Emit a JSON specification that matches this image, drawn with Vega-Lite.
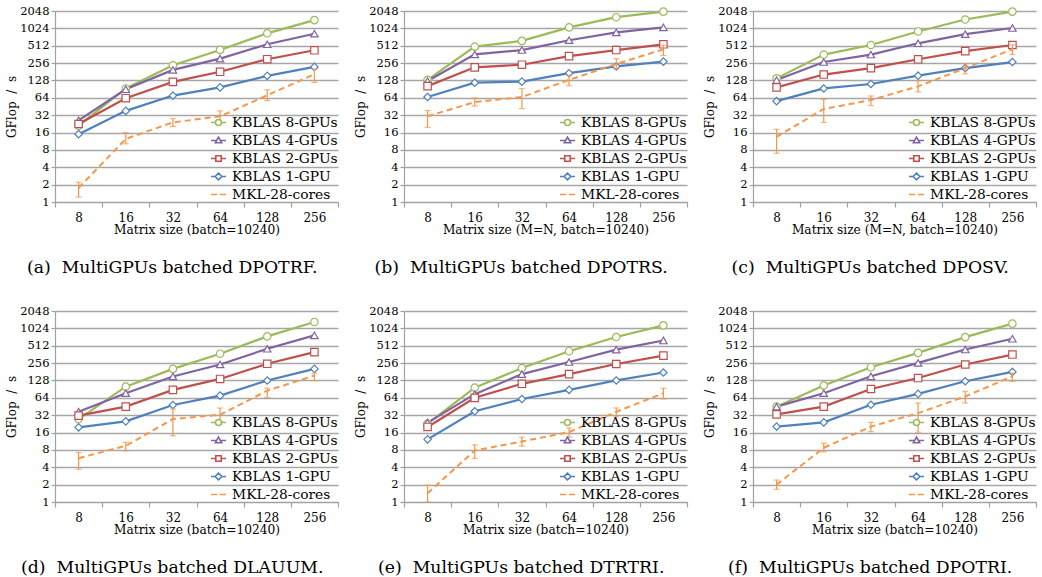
{
  "$schema": "https://vega.github.io/schema/vega-lite/v6.json",
  "padding": 5,
  "background": "white",
  "datasets": {
    "kblas": [
      {"panel": "a", "size": "8", "series": "KBLAS 8-GPUs", "gflops": 21},
      {"panel": "a", "size": "16", "series": "KBLAS 8-GPUs", "gflops": 93},
      {"panel": "a", "size": "32", "series": "KBLAS 8-GPUs", "gflops": 235},
      {"panel": "a", "size": "64", "series": "KBLAS 8-GPUs", "gflops": 433},
      {"panel": "a", "size": "128", "series": "KBLAS 8-GPUs", "gflops": 840},
      {"panel": "a", "size": "256", "series": "KBLAS 8-GPUs", "gflops": 1425},
      {"panel": "a", "size": "8", "series": "KBLAS 4-GPUs", "gflops": 26},
      {"panel": "a", "size": "16", "series": "KBLAS 4-GPUs", "gflops": 90},
      {"panel": "a", "size": "32", "series": "KBLAS 4-GPUs", "gflops": 195},
      {"panel": "a", "size": "64", "series": "KBLAS 4-GPUs", "gflops": 306},
      {"panel": "a", "size": "128", "series": "KBLAS 4-GPUs", "gflops": 542},
      {"panel": "a", "size": "256", "series": "KBLAS 4-GPUs", "gflops": 827},
      {"panel": "a", "size": "8", "series": "KBLAS 2-GPUs", "gflops": 22.5},
      {"panel": "a", "size": "16", "series": "KBLAS 2-GPUs", "gflops": 63},
      {"panel": "a", "size": "32", "series": "KBLAS 2-GPUs", "gflops": 121},
      {"panel": "a", "size": "64", "series": "KBLAS 2-GPUs", "gflops": 181},
      {"panel": "a", "size": "128", "series": "KBLAS 2-GPUs", "gflops": 299},
      {"panel": "a", "size": "256", "series": "KBLAS 2-GPUs", "gflops": 427},
      {"panel": "a", "size": "8", "series": "KBLAS 1-GPU", "gflops": 15},
      {"panel": "a", "size": "16", "series": "KBLAS 1-GPU", "gflops": 38},
      {"panel": "a", "size": "32", "series": "KBLAS 1-GPU", "gflops": 70},
      {"panel": "a", "size": "64", "series": "KBLAS 1-GPU", "gflops": 97},
      {"panel": "a", "size": "128", "series": "KBLAS 1-GPU", "gflops": 154},
      {"panel": "a", "size": "256", "series": "KBLAS 1-GPU", "gflops": 220},

      {"panel": "b", "size": "8", "series": "KBLAS 8-GPUs", "gflops": 131},
      {"panel": "b", "size": "16", "series": "KBLAS 8-GPUs", "gflops": 493},
      {"panel": "b", "size": "32", "series": "KBLAS 8-GPUs", "gflops": 621},
      {"panel": "b", "size": "64", "series": "KBLAS 8-GPUs", "gflops": 1067},
      {"panel": "b", "size": "128", "series": "KBLAS 8-GPUs", "gflops": 1600},
      {"panel": "b", "size": "256", "series": "KBLAS 8-GPUs", "gflops": 2000},
      {"panel": "b", "size": "8", "series": "KBLAS 4-GPUs", "gflops": 125},
      {"panel": "b", "size": "16", "series": "KBLAS 4-GPUs", "gflops": 362},
      {"panel": "b", "size": "32", "series": "KBLAS 4-GPUs", "gflops": 431},
      {"panel": "b", "size": "64", "series": "KBLAS 4-GPUs", "gflops": 638},
      {"panel": "b", "size": "128", "series": "KBLAS 4-GPUs", "gflops": 870},
      {"panel": "b", "size": "256", "series": "KBLAS 4-GPUs", "gflops": 1067},
      {"panel": "b", "size": "8", "series": "KBLAS 2-GPUs", "gflops": 102},
      {"panel": "b", "size": "16", "series": "KBLAS 2-GPUs", "gflops": 216},
      {"panel": "b", "size": "32", "series": "KBLAS 2-GPUs", "gflops": 240},
      {"panel": "b", "size": "64", "series": "KBLAS 2-GPUs", "gflops": 338},
      {"panel": "b", "size": "128", "series": "KBLAS 2-GPUs", "gflops": 431},
      {"panel": "b", "size": "256", "series": "KBLAS 2-GPUs", "gflops": 542},
      {"panel": "b", "size": "8", "series": "KBLAS 1-GPU", "gflops": 66},
      {"panel": "b", "size": "16", "series": "KBLAS 1-GPU", "gflops": 117},
      {"panel": "b", "size": "32", "series": "KBLAS 1-GPU", "gflops": 122},
      {"panel": "b", "size": "64", "series": "KBLAS 1-GPU", "gflops": 171},
      {"panel": "b", "size": "128", "series": "KBLAS 1-GPU", "gflops": 225},
      {"panel": "b", "size": "256", "series": "KBLAS 1-GPU", "gflops": 272},

      {"panel": "c", "size": "8", "series": "KBLAS 8-GPUs", "gflops": 139},
      {"panel": "c", "size": "16", "series": "KBLAS 8-GPUs", "gflops": 360},
      {"panel": "c", "size": "32", "series": "KBLAS 8-GPUs", "gflops": 527},
      {"panel": "c", "size": "64", "series": "KBLAS 8-GPUs", "gflops": 905},
      {"panel": "c", "size": "128", "series": "KBLAS 8-GPUs", "gflops": 1457},
      {"panel": "c", "size": "256", "series": "KBLAS 8-GPUs", "gflops": 2000},
      {"panel": "c", "size": "8", "series": "KBLAS 4-GPUs", "gflops": 130},
      {"panel": "c", "size": "16", "series": "KBLAS 4-GPUs", "gflops": 267},
      {"panel": "c", "size": "32", "series": "KBLAS 4-GPUs", "gflops": 360},
      {"panel": "c", "size": "64", "series": "KBLAS 4-GPUs", "gflops": 564},
      {"panel": "c", "size": "128", "series": "KBLAS 4-GPUs", "gflops": 813},
      {"panel": "c", "size": "256", "series": "KBLAS 4-GPUs", "gflops": 1038},
      {"panel": "c", "size": "8", "series": "KBLAS 2-GPUs", "gflops": 97},
      {"panel": "c", "size": "16", "series": "KBLAS 2-GPUs", "gflops": 162},
      {"panel": "c", "size": "32", "series": "KBLAS 2-GPUs", "gflops": 209},
      {"panel": "c", "size": "64", "series": "KBLAS 2-GPUs", "gflops": 298},
      {"panel": "c", "size": "128", "series": "KBLAS 2-GPUs", "gflops": 413},
      {"panel": "c", "size": "256", "series": "KBLAS 2-GPUs", "gflops": 527},
      {"panel": "c", "size": "8", "series": "KBLAS 1-GPU", "gflops": 56},
      {"panel": "c", "size": "16", "series": "KBLAS 1-GPU", "gflops": 93},
      {"panel": "c", "size": "32", "series": "KBLAS 1-GPU", "gflops": 111},
      {"panel": "c", "size": "64", "series": "KBLAS 1-GPU", "gflops": 155},
      {"panel": "c", "size": "128", "series": "KBLAS 1-GPU", "gflops": 209},
      {"panel": "c", "size": "256", "series": "KBLAS 1-GPU", "gflops": 267},

      {"panel": "d", "size": "8", "series": "KBLAS 8-GPUs", "gflops": 27.4},
      {"panel": "d", "size": "16", "series": "KBLAS 8-GPUs", "gflops": 100},
      {"panel": "d", "size": "32", "series": "KBLAS 8-GPUs", "gflops": 203},
      {"panel": "d", "size": "64", "series": "KBLAS 8-GPUs", "gflops": 372},
      {"panel": "d", "size": "128", "series": "KBLAS 8-GPUs", "gflops": 743},
      {"panel": "d", "size": "256", "series": "KBLAS 8-GPUs", "gflops": 1322},
      {"panel": "d", "size": "8", "series": "KBLAS 4-GPUs", "gflops": 36.8},
      {"panel": "d", "size": "16", "series": "KBLAS 4-GPUs", "gflops": 77},
      {"panel": "d", "size": "32", "series": "KBLAS 4-GPUs", "gflops": 150},
      {"panel": "d", "size": "64", "series": "KBLAS 4-GPUs", "gflops": 242},
      {"panel": "d", "size": "128", "series": "KBLAS 4-GPUs", "gflops": 453},
      {"panel": "d", "size": "256", "series": "KBLAS 4-GPUs", "gflops": 775},
      {"panel": "d", "size": "8", "series": "KBLAS 2-GPUs", "gflops": 31.4},
      {"panel": "d", "size": "16", "series": "KBLAS 2-GPUs", "gflops": 45},
      {"panel": "d", "size": "32", "series": "KBLAS 2-GPUs", "gflops": 88},
      {"panel": "d", "size": "64", "series": "KBLAS 2-GPUs", "gflops": 136},
      {"panel": "d", "size": "128", "series": "KBLAS 2-GPUs", "gflops": 249},
      {"panel": "d", "size": "256", "series": "KBLAS 2-GPUs", "gflops": 396},
      {"panel": "d", "size": "8", "series": "KBLAS 1-GPU", "gflops": 19.7},
      {"panel": "d", "size": "16", "series": "KBLAS 1-GPU", "gflops": 25},
      {"panel": "d", "size": "32", "series": "KBLAS 1-GPU", "gflops": 48},
      {"panel": "d", "size": "64", "series": "KBLAS 1-GPU", "gflops": 70},
      {"panel": "d", "size": "128", "series": "KBLAS 1-GPU", "gflops": 128},
      {"panel": "d", "size": "256", "series": "KBLAS 1-GPU", "gflops": 203},

      {"panel": "e", "size": "8", "series": "KBLAS 8-GPUs", "gflops": 22.9},
      {"panel": "e", "size": "16", "series": "KBLAS 8-GPUs", "gflops": 96},
      {"panel": "e", "size": "32", "series": "KBLAS 8-GPUs", "gflops": 210},
      {"panel": "e", "size": "64", "series": "KBLAS 8-GPUs", "gflops": 411},
      {"panel": "e", "size": "128", "series": "KBLAS 8-GPUs", "gflops": 724},
      {"panel": "e", "size": "256", "series": "KBLAS 8-GPUs", "gflops": 1155},
      {"panel": "e", "size": "8", "series": "KBLAS 4-GPUs", "gflops": 23.8},
      {"panel": "e", "size": "16", "series": "KBLAS 4-GPUs", "gflops": 74},
      {"panel": "e", "size": "32", "series": "KBLAS 4-GPUs", "gflops": 165},
      {"panel": "e", "size": "64", "series": "KBLAS 4-GPUs", "gflops": 267},
      {"panel": "e", "size": "128", "series": "KBLAS 4-GPUs", "gflops": 439},
      {"panel": "e", "size": "256", "series": "KBLAS 4-GPUs", "gflops": 630},
      {"panel": "e", "size": "8", "series": "KBLAS 2-GPUs", "gflops": 20},
      {"panel": "e", "size": "16", "series": "KBLAS 2-GPUs", "gflops": 64},
      {"panel": "e", "size": "32", "series": "KBLAS 2-GPUs", "gflops": 112},
      {"panel": "e", "size": "64", "series": "KBLAS 2-GPUs", "gflops": 165},
      {"panel": "e", "size": "128", "series": "KBLAS 2-GPUs", "gflops": 247},
      {"panel": "e", "size": "256", "series": "KBLAS 2-GPUs", "gflops": 345},
      {"panel": "e", "size": "8", "series": "KBLAS 1-GPU", "gflops": 12.2},
      {"panel": "e", "size": "16", "series": "KBLAS 1-GPU", "gflops": 37.5},
      {"panel": "e", "size": "32", "series": "KBLAS 1-GPU", "gflops": 61},
      {"panel": "e", "size": "64", "series": "KBLAS 1-GPU", "gflops": 88},
      {"panel": "e", "size": "128", "series": "KBLAS 1-GPU", "gflops": 128},
      {"panel": "e", "size": "256", "series": "KBLAS 1-GPU", "gflops": 176},

      {"panel": "f", "size": "8", "series": "KBLAS 8-GPUs", "gflops": 45},
      {"panel": "f", "size": "16", "series": "KBLAS 8-GPUs", "gflops": 105},
      {"panel": "f", "size": "32", "series": "KBLAS 8-GPUs", "gflops": 217},
      {"panel": "f", "size": "64", "series": "KBLAS 8-GPUs", "gflops": 385},
      {"panel": "f", "size": "128", "series": "KBLAS 8-GPUs", "gflops": 723},
      {"panel": "f", "size": "256", "series": "KBLAS 8-GPUs", "gflops": 1235},
      {"panel": "f", "size": "8", "series": "KBLAS 4-GPUs", "gflops": 45},
      {"panel": "f", "size": "16", "series": "KBLAS 4-GPUs", "gflops": 77},
      {"panel": "f", "size": "32", "series": "KBLAS 4-GPUs", "gflops": 151},
      {"panel": "f", "size": "64", "series": "KBLAS 4-GPUs", "gflops": 258},
      {"panel": "f", "size": "128", "series": "KBLAS 4-GPUs", "gflops": 440},
      {"panel": "f", "size": "256", "series": "KBLAS 4-GPUs", "gflops": 676},
      {"panel": "f", "size": "8", "series": "KBLAS 2-GPUs", "gflops": 33},
      {"panel": "f", "size": "16", "series": "KBLAS 2-GPUs", "gflops": 45},
      {"panel": "f", "size": "32", "series": "KBLAS 2-GPUs", "gflops": 91},
      {"panel": "f", "size": "64", "series": "KBLAS 2-GPUs", "gflops": 141},
      {"panel": "f", "size": "128", "series": "KBLAS 2-GPUs", "gflops": 242},
      {"panel": "f", "size": "256", "series": "KBLAS 2-GPUs", "gflops": 360},
      {"panel": "f", "size": "8", "series": "KBLAS 1-GPU", "gflops": 20.3},
      {"panel": "f", "size": "16", "series": "KBLAS 1-GPU", "gflops": 24},
      {"panel": "f", "size": "32", "series": "KBLAS 1-GPU", "gflops": 48.5},
      {"panel": "f", "size": "64", "series": "KBLAS 1-GPU", "gflops": 75},
      {"panel": "f", "size": "128", "series": "KBLAS 1-GPU", "gflops": 124},
      {"panel": "f", "size": "256", "series": "KBLAS 1-GPU", "gflops": 180}
    ],
    "mkl": [
      {"panel": "a", "size": "8", "gflops": 1.75, "lo": 1.22, "hi": 2.2},
      {"panel": "a", "size": "16", "gflops": 12.4, "lo": 10.2, "hi": 16},
      {"panel": "a", "size": "32", "gflops": 24, "lo": 20.4, "hi": 28},
      {"panel": "a", "size": "64", "gflops": 30.5, "lo": 23.5, "hi": 38},
      {"panel": "a", "size": "128", "gflops": 71, "lo": 57, "hi": 88},
      {"panel": "a", "size": "256", "gflops": 164, "lo": 118, "hi": 200},
      {"panel": "b", "size": "8", "gflops": 30.7, "lo": 19.6, "hi": 38.6},
      {"panel": "b", "size": "16", "gflops": 54, "lo": 46, "hi": 63.8},
      {"panel": "b", "size": "32", "gflops": 66, "lo": 41.6, "hi": 93},
      {"panel": "b", "size": "64", "gflops": 131, "lo": 104, "hi": 157},
      {"panel": "b", "size": "128", "gflops": 247, "lo": 202, "hi": 307},
      {"panel": "b", "size": "256", "gflops": 443, "lo": 347, "hi": 522},
      {"panel": "c", "size": "8", "gflops": 13.5, "lo": 7, "hi": 18.2},
      {"panel": "c", "size": "16", "gflops": 41, "lo": 24, "hi": 60},
      {"panel": "c", "size": "32", "gflops": 58.5, "lo": 47, "hi": 69},
      {"panel": "c", "size": "64", "gflops": 101, "lo": 81, "hi": 127},
      {"panel": "c", "size": "128", "gflops": 209, "lo": 167, "hi": 250},
      {"panel": "c", "size": "256", "gflops": 448, "lo": 360, "hi": 530},
      {"panel": "d", "size": "8", "gflops": 5.75, "lo": 3.7, "hi": 7.2},
      {"panel": "d", "size": "16", "gflops": 9.4, "lo": 7.7, "hi": 10.8},
      {"panel": "d", "size": "32", "gflops": 27.4, "lo": 14, "hi": 41},
      {"panel": "d", "size": "64", "gflops": 32.6, "lo": 25, "hi": 42.5},
      {"panel": "d", "size": "128", "gflops": 85, "lo": 65, "hi": 94},
      {"panel": "d", "size": "256", "gflops": 156, "lo": 127, "hi": 171},
      {"panel": "e", "size": "8", "gflops": 1.42, "lo": 1.0, "hi": 1.96},
      {"panel": "e", "size": "16", "gflops": 7.8, "lo": 5.7, "hi": 9.8},
      {"panel": "e", "size": "32", "gflops": 11.2, "lo": 9.3, "hi": 13.3},
      {"panel": "e", "size": "64", "gflops": 16.3, "lo": 13.3, "hi": 19.2},
      {"panel": "e", "size": "128", "gflops": 36.6, "lo": 29.9, "hi": 42.7},
      {"panel": "e", "size": "256", "gflops": 77, "lo": 61, "hi": 93.6},
      {"panel": "f", "size": "8", "gflops": 2.0, "lo": 1.66, "hi": 2.4},
      {"panel": "f", "size": "16", "gflops": 8.7, "lo": 7.4, "hi": 10.4},
      {"panel": "f", "size": "32", "gflops": 20.3, "lo": 16.6, "hi": 24},
      {"panel": "f", "size": "64", "gflops": 34.7, "lo": 16.2, "hi": 52},
      {"panel": "f", "size": "128", "gflops": 67.6, "lo": 52, "hi": 83},
      {"panel": "f", "size": "256", "gflops": 151, "lo": 123, "hi": 173}
    ]
  },
  "spacing": 28,
  "resolve": {"scale": {"color": "independent", "shape": "independent", "x": "independent", "y": "independent"}, "legend": {"color": "independent", "shape": "independent"}},
  "vconcat": [
    {
      "spacing": 15,
      "resolve": {"scale": {"color": "independent", "shape": "independent", "x": "independent", "y": "independent"}, "legend": {"color": "independent", "shape": "independent"}},
      "hconcat": [
        {
          "width": 283, "height": 191,
          "title": "(a)\u00a0 MultiGPUs batched DPOTRF.",
          "encoding": {"x": {"field": "size", "type": "ordinal", "sort": ["8", "16", "32", "64", "128", "256"], "scale": {"type": "band", "paddingInner": 0, "paddingOuter": 0}, "title": "Matrix size (batch=10240)"}},
          "layer": [
            {"data": {"name": "kblas"}, "transform": [{"filter": "datum.panel === 'a'"}], "mark": {"type": "line", "strokeWidth": 2.2},
             "encoding": {"y": {"field": "gflops", "type": "quantitative", "title": "GFlop\u00a0 /\u00a0 s", "scale": {"type": "log", "base": 2, "domain": [1, 2048], "nice": false}, "axis": {"values": [1, 2, 4, 8, 16, 32, 64, 128, 256, 512, 1024, 2048], "format": "d"}},
                          "color": {"field": "series", "type": "nominal", "scale": {"domain": ["KBLAS 8-GPUs", "KBLAS 4-GPUs", "KBLAS 2-GPUs", "KBLAS 1-GPU", "MKL-28-cores"], "range": ["#9BBB59", "#8064A2", "#C0504D", "#4F81BD", "#F79646"]}, "legend": null}}},
            {"data": {"name": "kblas"}, "transform": [{"filter": "datum.panel === 'a'"}], "mark": {"type": "point", "filled": false, "fill": "white", "fillOpacity": 1, "opacity": 1, "size": 55, "strokeWidth": 1.2},
             "encoding": {"y": {"field": "gflops", "type": "quantitative", "title": "GFlop\u00a0 /\u00a0 s", "scale": {"type": "log", "base": 2, "domain": [1, 2048], "nice": false}},
                          "color": {"field": "series", "type": "nominal", "scale": {"domain": ["KBLAS 8-GPUs", "KBLAS 4-GPUs", "KBLAS 2-GPUs", "KBLAS 1-GPU", "MKL-28-cores"], "range": ["#9BBB59", "#8064A2", "#C0504D", "#4F81BD", "#F79646"]}, "legend": null},
                          "shape": {"field": "series", "type": "nominal", "scale": {"domain": ["KBLAS 8-GPUs", "KBLAS 4-GPUs", "KBLAS 2-GPUs", "KBLAS 1-GPU"], "range": ["circle", "triangle-up", "square", "diamond"]}, "legend": null}}},
            {"data": {"name": "mkl"}, "transform": [{"filter": "datum.panel === 'a'"}], "mark": {"type": "line", "strokeWidth": 2, "strokeDash": [6, 4], "color": "#F79646"},
             "encoding": {"y": {"field": "gflops", "type": "quantitative", "title": "GFlop\u00a0 /\u00a0 s", "scale": {"type": "log", "base": 2, "domain": [1, 2048], "nice": false}}}},
            {"data": {"name": "mkl"}, "transform": [{"filter": "datum.panel === 'a'"}], "mark": {"type": "rule", "strokeWidth": 1.2, "color": "#F79646"},
             "encoding": {"y": {"field": "lo", "type": "quantitative", "title": "GFlop\u00a0 /\u00a0 s", "scale": {"type": "log", "base": 2, "domain": [1, 2048], "nice": false}}, "y2": {"field": "hi"}}},
            {"data": {"name": "mkl"}, "transform": [{"filter": "datum.panel === 'a'"}], "mark": {"type": "tick", "size": 6, "thickness": 1.2, "color": "#F79646"},
             "encoding": {"y": {"field": "lo", "type": "quantitative", "title": "GFlop\u00a0 /\u00a0 s", "scale": {"type": "log", "base": 2, "domain": [1, 2048], "nice": false}}}},
            {"data": {"name": "mkl"}, "transform": [{"filter": "datum.panel === 'a'"}], "mark": {"type": "tick", "size": 6, "thickness": 1.2, "color": "#F79646"},
             "encoding": {"y": {"field": "hi", "type": "quantitative", "title": "GFlop\u00a0 /\u00a0 s", "scale": {"type": "log", "base": 2, "domain": [1, 2048], "nice": false}}}},
            {"data": {"name": "kblas"}, "transform": [{"filter": "false"}], "mark": {"type": "point", "filled": false, "fill": "white", "size": 225, "strokeWidth": 1.6},
             "encoding": {"color": {"field": "series", "type": "nominal", "scale": {"domain": ["KBLAS 8-GPUs", "KBLAS 4-GPUs", "KBLAS 2-GPUs", "KBLAS 1-GPU", "MKL-28-cores"], "range": ["#9BBB59", "#8064A2", "#C0504D", "#4F81BD", "#F79646"]}, "legend": {"orient": "bottom-right"}},
                          "shape": {"field": "series", "type": "nominal", "scale": {"domain": ["KBLAS 8-GPUs", "KBLAS 4-GPUs", "KBLAS 2-GPUs", "KBLAS 1-GPU", "MKL-28-cores"], "range": ["M-1,0H-0.4M0.4,0H1M-0.4,0A0.4,0.4,0,1,1,0.4,0A0.4,0.4,0,1,1,-0.4,0Z", "M-1,0H-0.27M0.27,0H1M0,-0.45L0.42,0.3L-0.42,0.3Z", "M-1,0H-0.36M0.36,0H1M-0.36,-0.36H0.36V0.36H-0.36Z", "M-1,0H-0.45M0.45,0H1M0,-0.45L0.45,0L0,0.45L-0.45,0Z", "M-1,0H-0.18M0.18,0H1"]}, "legend": {"orient": "bottom-right"}}}}
          ],
          "resolve": {"scale": {"shape": "independent", "color": "independent"}}
        },
        {
          "width": 283, "height": 191,
          "title": "(b)\u00a0 MultiGPUs batched DPOTRS.",
          "encoding": {"x": {"field": "size", "type": "ordinal", "sort": ["8", "16", "32", "64", "128", "256"], "scale": {"type": "band", "paddingInner": 0, "paddingOuter": 0}, "title": "Matrix size (M=N, batch=10240)"}},
          "layer": [
            {"data": {"name": "kblas"}, "transform": [{"filter": "datum.panel === 'b'"}], "mark": {"type": "line", "strokeWidth": 2.2},
             "encoding": {"y": {"field": "gflops", "type": "quantitative", "title": "GFlop\u00a0 /\u00a0 s", "scale": {"type": "log", "base": 2, "domain": [1, 2048], "nice": false}, "axis": {"values": [1, 2, 4, 8, 16, 32, 64, 128, 256, 512, 1024, 2048], "format": "d"}},
                          "color": {"field": "series", "type": "nominal", "scale": {"domain": ["KBLAS 8-GPUs", "KBLAS 4-GPUs", "KBLAS 2-GPUs", "KBLAS 1-GPU", "MKL-28-cores"], "range": ["#9BBB59", "#8064A2", "#C0504D", "#4F81BD", "#F79646"]}, "legend": null}}},
            {"data": {"name": "kblas"}, "transform": [{"filter": "datum.panel === 'b'"}], "mark": {"type": "point", "filled": false, "fill": "white", "fillOpacity": 1, "opacity": 1, "size": 55, "strokeWidth": 1.2},
             "encoding": {"y": {"field": "gflops", "type": "quantitative", "title": "GFlop\u00a0 /\u00a0 s", "scale": {"type": "log", "base": 2, "domain": [1, 2048], "nice": false}},
                          "color": {"field": "series", "type": "nominal", "scale": {"domain": ["KBLAS 8-GPUs", "KBLAS 4-GPUs", "KBLAS 2-GPUs", "KBLAS 1-GPU", "MKL-28-cores"], "range": ["#9BBB59", "#8064A2", "#C0504D", "#4F81BD", "#F79646"]}, "legend": null},
                          "shape": {"field": "series", "type": "nominal", "scale": {"domain": ["KBLAS 8-GPUs", "KBLAS 4-GPUs", "KBLAS 2-GPUs", "KBLAS 1-GPU"], "range": ["circle", "triangle-up", "square", "diamond"]}, "legend": null}}},
            {"data": {"name": "mkl"}, "transform": [{"filter": "datum.panel === 'b'"}], "mark": {"type": "line", "strokeWidth": 2, "strokeDash": [6, 4], "color": "#F79646"},
             "encoding": {"y": {"field": "gflops", "type": "quantitative", "title": "GFlop\u00a0 /\u00a0 s", "scale": {"type": "log", "base": 2, "domain": [1, 2048], "nice": false}}}},
            {"data": {"name": "mkl"}, "transform": [{"filter": "datum.panel === 'b'"}], "mark": {"type": "rule", "strokeWidth": 1.2, "color": "#F79646"},
             "encoding": {"y": {"field": "lo", "type": "quantitative", "title": "GFlop\u00a0 /\u00a0 s", "scale": {"type": "log", "base": 2, "domain": [1, 2048], "nice": false}}, "y2": {"field": "hi"}}},
            {"data": {"name": "mkl"}, "transform": [{"filter": "datum.panel === 'b'"}], "mark": {"type": "tick", "size": 6, "thickness": 1.2, "color": "#F79646"},
             "encoding": {"y": {"field": "lo", "type": "quantitative", "title": "GFlop\u00a0 /\u00a0 s", "scale": {"type": "log", "base": 2, "domain": [1, 2048], "nice": false}}}},
            {"data": {"name": "mkl"}, "transform": [{"filter": "datum.panel === 'b'"}], "mark": {"type": "tick", "size": 6, "thickness": 1.2, "color": "#F79646"},
             "encoding": {"y": {"field": "hi", "type": "quantitative", "title": "GFlop\u00a0 /\u00a0 s", "scale": {"type": "log", "base": 2, "domain": [1, 2048], "nice": false}}}},
            {"data": {"name": "kblas"}, "transform": [{"filter": "false"}], "mark": {"type": "point", "filled": false, "fill": "white", "size": 225, "strokeWidth": 1.6},
             "encoding": {"color": {"field": "series", "type": "nominal", "scale": {"domain": ["KBLAS 8-GPUs", "KBLAS 4-GPUs", "KBLAS 2-GPUs", "KBLAS 1-GPU", "MKL-28-cores"], "range": ["#9BBB59", "#8064A2", "#C0504D", "#4F81BD", "#F79646"]}, "legend": {"orient": "bottom-right"}},
                          "shape": {"field": "series", "type": "nominal", "scale": {"domain": ["KBLAS 8-GPUs", "KBLAS 4-GPUs", "KBLAS 2-GPUs", "KBLAS 1-GPU", "MKL-28-cores"], "range": ["M-1,0H-0.4M0.4,0H1M-0.4,0A0.4,0.4,0,1,1,0.4,0A0.4,0.4,0,1,1,-0.4,0Z", "M-1,0H-0.27M0.27,0H1M0,-0.45L0.42,0.3L-0.42,0.3Z", "M-1,0H-0.36M0.36,0H1M-0.36,-0.36H0.36V0.36H-0.36Z", "M-1,0H-0.45M0.45,0H1M0,-0.45L0.45,0L0,0.45L-0.45,0Z", "M-1,0H-0.18M0.18,0H1"]}, "legend": {"orient": "bottom-right"}}}}
          ],
          "resolve": {"scale": {"shape": "independent", "color": "independent"}}
        },
        {
          "width": 283, "height": 191,
          "title": "(c)\u00a0 MultiGPUs batched DPOSV.",
          "encoding": {"x": {"field": "size", "type": "ordinal", "sort": ["8", "16", "32", "64", "128", "256"], "scale": {"type": "band", "paddingInner": 0, "paddingOuter": 0}, "title": "Matrix size (M=N, batch=10240)"}},
          "layer": [
            {"data": {"name": "kblas"}, "transform": [{"filter": "datum.panel === 'c'"}], "mark": {"type": "line", "strokeWidth": 2.2},
             "encoding": {"y": {"field": "gflops", "type": "quantitative", "title": "GFlop\u00a0 /\u00a0 s", "scale": {"type": "log", "base": 2, "domain": [1, 2048], "nice": false}, "axis": {"values": [1, 2, 4, 8, 16, 32, 64, 128, 256, 512, 1024, 2048], "format": "d"}},
                          "color": {"field": "series", "type": "nominal", "scale": {"domain": ["KBLAS 8-GPUs", "KBLAS 4-GPUs", "KBLAS 2-GPUs", "KBLAS 1-GPU", "MKL-28-cores"], "range": ["#9BBB59", "#8064A2", "#C0504D", "#4F81BD", "#F79646"]}, "legend": null}}},
            {"data": {"name": "kblas"}, "transform": [{"filter": "datum.panel === 'c'"}], "mark": {"type": "point", "filled": false, "fill": "white", "fillOpacity": 1, "opacity": 1, "size": 55, "strokeWidth": 1.2},
             "encoding": {"y": {"field": "gflops", "type": "quantitative", "title": "GFlop\u00a0 /\u00a0 s", "scale": {"type": "log", "base": 2, "domain": [1, 2048], "nice": false}},
                          "color": {"field": "series", "type": "nominal", "scale": {"domain": ["KBLAS 8-GPUs", "KBLAS 4-GPUs", "KBLAS 2-GPUs", "KBLAS 1-GPU", "MKL-28-cores"], "range": ["#9BBB59", "#8064A2", "#C0504D", "#4F81BD", "#F79646"]}, "legend": null},
                          "shape": {"field": "series", "type": "nominal", "scale": {"domain": ["KBLAS 8-GPUs", "KBLAS 4-GPUs", "KBLAS 2-GPUs", "KBLAS 1-GPU"], "range": ["circle", "triangle-up", "square", "diamond"]}, "legend": null}}},
            {"data": {"name": "mkl"}, "transform": [{"filter": "datum.panel === 'c'"}], "mark": {"type": "line", "strokeWidth": 2, "strokeDash": [6, 4], "color": "#F79646"},
             "encoding": {"y": {"field": "gflops", "type": "quantitative", "title": "GFlop\u00a0 /\u00a0 s", "scale": {"type": "log", "base": 2, "domain": [1, 2048], "nice": false}}}},
            {"data": {"name": "mkl"}, "transform": [{"filter": "datum.panel === 'c'"}], "mark": {"type": "rule", "strokeWidth": 1.2, "color": "#F79646"},
             "encoding": {"y": {"field": "lo", "type": "quantitative", "title": "GFlop\u00a0 /\u00a0 s", "scale": {"type": "log", "base": 2, "domain": [1, 2048], "nice": false}}, "y2": {"field": "hi"}}},
            {"data": {"name": "mkl"}, "transform": [{"filter": "datum.panel === 'c'"}], "mark": {"type": "tick", "size": 6, "thickness": 1.2, "color": "#F79646"},
             "encoding": {"y": {"field": "lo", "type": "quantitative", "title": "GFlop\u00a0 /\u00a0 s", "scale": {"type": "log", "base": 2, "domain": [1, 2048], "nice": false}}}},
            {"data": {"name": "mkl"}, "transform": [{"filter": "datum.panel === 'c'"}], "mark": {"type": "tick", "size": 6, "thickness": 1.2, "color": "#F79646"},
             "encoding": {"y": {"field": "hi", "type": "quantitative", "title": "GFlop\u00a0 /\u00a0 s", "scale": {"type": "log", "base": 2, "domain": [1, 2048], "nice": false}}}},
            {"data": {"name": "kblas"}, "transform": [{"filter": "false"}], "mark": {"type": "point", "filled": false, "fill": "white", "size": 225, "strokeWidth": 1.6},
             "encoding": {"color": {"field": "series", "type": "nominal", "scale": {"domain": ["KBLAS 8-GPUs", "KBLAS 4-GPUs", "KBLAS 2-GPUs", "KBLAS 1-GPU", "MKL-28-cores"], "range": ["#9BBB59", "#8064A2", "#C0504D", "#4F81BD", "#F79646"]}, "legend": {"orient": "bottom-right"}},
                          "shape": {"field": "series", "type": "nominal", "scale": {"domain": ["KBLAS 8-GPUs", "KBLAS 4-GPUs", "KBLAS 2-GPUs", "KBLAS 1-GPU", "MKL-28-cores"], "range": ["M-1,0H-0.4M0.4,0H1M-0.4,0A0.4,0.4,0,1,1,0.4,0A0.4,0.4,0,1,1,-0.4,0Z", "M-1,0H-0.27M0.27,0H1M0,-0.45L0.42,0.3L-0.42,0.3Z", "M-1,0H-0.36M0.36,0H1M-0.36,-0.36H0.36V0.36H-0.36Z", "M-1,0H-0.45M0.45,0H1M0,-0.45L0.45,0L0,0.45L-0.45,0Z", "M-1,0H-0.18M0.18,0H1"]}, "legend": {"orient": "bottom-right"}}}}
          ],
          "resolve": {"scale": {"shape": "independent", "color": "independent"}}
        }
      ]
    },
    {
      "spacing": 15,
      "resolve": {"scale": {"color": "independent", "shape": "independent", "x": "independent", "y": "independent"}, "legend": {"color": "independent", "shape": "independent"}},
      "hconcat": [
        {
          "width": 283, "height": 191,
          "title": "(d)\u00a0 MultiGPUs batched DLAUUM.",
          "encoding": {"x": {"field": "size", "type": "ordinal", "sort": ["8", "16", "32", "64", "128", "256"], "scale": {"type": "band", "paddingInner": 0, "paddingOuter": 0}, "title": "Matrix size (batch=10240)"}},
          "layer": [
            {"data": {"name": "kblas"}, "transform": [{"filter": "datum.panel === 'd'"}], "mark": {"type": "line", "strokeWidth": 2.2},
             "encoding": {"y": {"field": "gflops", "type": "quantitative", "title": "GFlop\u00a0 /\u00a0 s", "scale": {"type": "log", "base": 2, "domain": [1, 2048], "nice": false}, "axis": {"values": [1, 2, 4, 8, 16, 32, 64, 128, 256, 512, 1024, 2048], "format": "d"}},
                          "color": {"field": "series", "type": "nominal", "scale": {"domain": ["KBLAS 8-GPUs", "KBLAS 4-GPUs", "KBLAS 2-GPUs", "KBLAS 1-GPU", "MKL-28-cores"], "range": ["#9BBB59", "#8064A2", "#C0504D", "#4F81BD", "#F79646"]}, "legend": null}}},
            {"data": {"name": "kblas"}, "transform": [{"filter": "datum.panel === 'd'"}], "mark": {"type": "point", "filled": false, "fill": "white", "fillOpacity": 1, "opacity": 1, "size": 55, "strokeWidth": 1.2},
             "encoding": {"y": {"field": "gflops", "type": "quantitative", "title": "GFlop\u00a0 /\u00a0 s", "scale": {"type": "log", "base": 2, "domain": [1, 2048], "nice": false}},
                          "color": {"field": "series", "type": "nominal", "scale": {"domain": ["KBLAS 8-GPUs", "KBLAS 4-GPUs", "KBLAS 2-GPUs", "KBLAS 1-GPU", "MKL-28-cores"], "range": ["#9BBB59", "#8064A2", "#C0504D", "#4F81BD", "#F79646"]}, "legend": null},
                          "shape": {"field": "series", "type": "nominal", "scale": {"domain": ["KBLAS 8-GPUs", "KBLAS 4-GPUs", "KBLAS 2-GPUs", "KBLAS 1-GPU"], "range": ["circle", "triangle-up", "square", "diamond"]}, "legend": null}}},
            {"data": {"name": "mkl"}, "transform": [{"filter": "datum.panel === 'd'"}], "mark": {"type": "line", "strokeWidth": 2, "strokeDash": [6, 4], "color": "#F79646"},
             "encoding": {"y": {"field": "gflops", "type": "quantitative", "title": "GFlop\u00a0 /\u00a0 s", "scale": {"type": "log", "base": 2, "domain": [1, 2048], "nice": false}}}},
            {"data": {"name": "mkl"}, "transform": [{"filter": "datum.panel === 'd'"}], "mark": {"type": "rule", "strokeWidth": 1.2, "color": "#F79646"},
             "encoding": {"y": {"field": "lo", "type": "quantitative", "title": "GFlop\u00a0 /\u00a0 s", "scale": {"type": "log", "base": 2, "domain": [1, 2048], "nice": false}}, "y2": {"field": "hi"}}},
            {"data": {"name": "mkl"}, "transform": [{"filter": "datum.panel === 'd'"}], "mark": {"type": "tick", "size": 6, "thickness": 1.2, "color": "#F79646"},
             "encoding": {"y": {"field": "lo", "type": "quantitative", "title": "GFlop\u00a0 /\u00a0 s", "scale": {"type": "log", "base": 2, "domain": [1, 2048], "nice": false}}}},
            {"data": {"name": "mkl"}, "transform": [{"filter": "datum.panel === 'd'"}], "mark": {"type": "tick", "size": 6, "thickness": 1.2, "color": "#F79646"},
             "encoding": {"y": {"field": "hi", "type": "quantitative", "title": "GFlop\u00a0 /\u00a0 s", "scale": {"type": "log", "base": 2, "domain": [1, 2048], "nice": false}}}},
            {"data": {"name": "kblas"}, "transform": [{"filter": "false"}], "mark": {"type": "point", "filled": false, "fill": "white", "size": 225, "strokeWidth": 1.6},
             "encoding": {"color": {"field": "series", "type": "nominal", "scale": {"domain": ["KBLAS 8-GPUs", "KBLAS 4-GPUs", "KBLAS 2-GPUs", "KBLAS 1-GPU", "MKL-28-cores"], "range": ["#9BBB59", "#8064A2", "#C0504D", "#4F81BD", "#F79646"]}, "legend": {"orient": "bottom-right"}},
                          "shape": {"field": "series", "type": "nominal", "scale": {"domain": ["KBLAS 8-GPUs", "KBLAS 4-GPUs", "KBLAS 2-GPUs", "KBLAS 1-GPU", "MKL-28-cores"], "range": ["M-1,0H-0.4M0.4,0H1M-0.4,0A0.4,0.4,0,1,1,0.4,0A0.4,0.4,0,1,1,-0.4,0Z", "M-1,0H-0.27M0.27,0H1M0,-0.45L0.42,0.3L-0.42,0.3Z", "M-1,0H-0.36M0.36,0H1M-0.36,-0.36H0.36V0.36H-0.36Z", "M-1,0H-0.45M0.45,0H1M0,-0.45L0.45,0L0,0.45L-0.45,0Z", "M-1,0H-0.18M0.18,0H1"]}, "legend": {"orient": "bottom-right"}}}}
          ],
          "resolve": {"scale": {"shape": "independent", "color": "independent"}}
        },
        {
          "width": 283, "height": 191,
          "title": "(e)\u00a0 MultiGPUs batched DTRTRI.",
          "encoding": {"x": {"field": "size", "type": "ordinal", "sort": ["8", "16", "32", "64", "128", "256"], "scale": {"type": "band", "paddingInner": 0, "paddingOuter": 0}, "title": "Matrix size (batch=10240)"}},
          "layer": [
            {"data": {"name": "kblas"}, "transform": [{"filter": "datum.panel === 'e'"}], "mark": {"type": "line", "strokeWidth": 2.2},
             "encoding": {"y": {"field": "gflops", "type": "quantitative", "title": "GFlop\u00a0 /\u00a0 s", "scale": {"type": "log", "base": 2, "domain": [1, 2048], "nice": false}, "axis": {"values": [1, 2, 4, 8, 16, 32, 64, 128, 256, 512, 1024, 2048], "format": "d"}},
                          "color": {"field": "series", "type": "nominal", "scale": {"domain": ["KBLAS 8-GPUs", "KBLAS 4-GPUs", "KBLAS 2-GPUs", "KBLAS 1-GPU", "MKL-28-cores"], "range": ["#9BBB59", "#8064A2", "#C0504D", "#4F81BD", "#F79646"]}, "legend": null}}},
            {"data": {"name": "kblas"}, "transform": [{"filter": "datum.panel === 'e'"}], "mark": {"type": "point", "filled": false, "fill": "white", "fillOpacity": 1, "opacity": 1, "size": 55, "strokeWidth": 1.2},
             "encoding": {"y": {"field": "gflops", "type": "quantitative", "title": "GFlop\u00a0 /\u00a0 s", "scale": {"type": "log", "base": 2, "domain": [1, 2048], "nice": false}},
                          "color": {"field": "series", "type": "nominal", "scale": {"domain": ["KBLAS 8-GPUs", "KBLAS 4-GPUs", "KBLAS 2-GPUs", "KBLAS 1-GPU", "MKL-28-cores"], "range": ["#9BBB59", "#8064A2", "#C0504D", "#4F81BD", "#F79646"]}, "legend": null},
                          "shape": {"field": "series", "type": "nominal", "scale": {"domain": ["KBLAS 8-GPUs", "KBLAS 4-GPUs", "KBLAS 2-GPUs", "KBLAS 1-GPU"], "range": ["circle", "triangle-up", "square", "diamond"]}, "legend": null}}},
            {"data": {"name": "mkl"}, "transform": [{"filter": "datum.panel === 'e'"}], "mark": {"type": "line", "strokeWidth": 2, "strokeDash": [6, 4], "color": "#F79646"},
             "encoding": {"y": {"field": "gflops", "type": "quantitative", "title": "GFlop\u00a0 /\u00a0 s", "scale": {"type": "log", "base": 2, "domain": [1, 2048], "nice": false}}}},
            {"data": {"name": "mkl"}, "transform": [{"filter": "datum.panel === 'e'"}], "mark": {"type": "rule", "strokeWidth": 1.2, "color": "#F79646"},
             "encoding": {"y": {"field": "lo", "type": "quantitative", "title": "GFlop\u00a0 /\u00a0 s", "scale": {"type": "log", "base": 2, "domain": [1, 2048], "nice": false}}, "y2": {"field": "hi"}}},
            {"data": {"name": "mkl"}, "transform": [{"filter": "datum.panel === 'e'"}], "mark": {"type": "tick", "size": 6, "thickness": 1.2, "color": "#F79646"},
             "encoding": {"y": {"field": "lo", "type": "quantitative", "title": "GFlop\u00a0 /\u00a0 s", "scale": {"type": "log", "base": 2, "domain": [1, 2048], "nice": false}}}},
            {"data": {"name": "mkl"}, "transform": [{"filter": "datum.panel === 'e'"}], "mark": {"type": "tick", "size": 6, "thickness": 1.2, "color": "#F79646"},
             "encoding": {"y": {"field": "hi", "type": "quantitative", "title": "GFlop\u00a0 /\u00a0 s", "scale": {"type": "log", "base": 2, "domain": [1, 2048], "nice": false}}}},
            {"data": {"name": "kblas"}, "transform": [{"filter": "false"}], "mark": {"type": "point", "filled": false, "fill": "white", "size": 225, "strokeWidth": 1.6},
             "encoding": {"color": {"field": "series", "type": "nominal", "scale": {"domain": ["KBLAS 8-GPUs", "KBLAS 4-GPUs", "KBLAS 2-GPUs", "KBLAS 1-GPU", "MKL-28-cores"], "range": ["#9BBB59", "#8064A2", "#C0504D", "#4F81BD", "#F79646"]}, "legend": {"orient": "bottom-right"}},
                          "shape": {"field": "series", "type": "nominal", "scale": {"domain": ["KBLAS 8-GPUs", "KBLAS 4-GPUs", "KBLAS 2-GPUs", "KBLAS 1-GPU", "MKL-28-cores"], "range": ["M-1,0H-0.4M0.4,0H1M-0.4,0A0.4,0.4,0,1,1,0.4,0A0.4,0.4,0,1,1,-0.4,0Z", "M-1,0H-0.27M0.27,0H1M0,-0.45L0.42,0.3L-0.42,0.3Z", "M-1,0H-0.36M0.36,0H1M-0.36,-0.36H0.36V0.36H-0.36Z", "M-1,0H-0.45M0.45,0H1M0,-0.45L0.45,0L0,0.45L-0.45,0Z", "M-1,0H-0.18M0.18,0H1"]}, "legend": {"orient": "bottom-right"}}}}
          ],
          "resolve": {"scale": {"shape": "independent", "color": "independent"}}
        },
        {
          "width": 283, "height": 191,
          "title": "(f)\u00a0 MultiGPUs batched DPOTRI.",
          "encoding": {"x": {"field": "size", "type": "ordinal", "sort": ["8", "16", "32", "64", "128", "256"], "scale": {"type": "band", "paddingInner": 0, "paddingOuter": 0}, "title": "Matrix size (batch=10240)"}},
          "layer": [
            {"data": {"name": "kblas"}, "transform": [{"filter": "datum.panel === 'f'"}], "mark": {"type": "line", "strokeWidth": 2.2},
             "encoding": {"y": {"field": "gflops", "type": "quantitative", "title": "GFlop\u00a0 /\u00a0 s", "scale": {"type": "log", "base": 2, "domain": [1, 2048], "nice": false}, "axis": {"values": [1, 2, 4, 8, 16, 32, 64, 128, 256, 512, 1024, 2048], "format": "d"}},
                          "color": {"field": "series", "type": "nominal", "scale": {"domain": ["KBLAS 8-GPUs", "KBLAS 4-GPUs", "KBLAS 2-GPUs", "KBLAS 1-GPU", "MKL-28-cores"], "range": ["#9BBB59", "#8064A2", "#C0504D", "#4F81BD", "#F79646"]}, "legend": null}}},
            {"data": {"name": "kblas"}, "transform": [{"filter": "datum.panel === 'f'"}], "mark": {"type": "point", "filled": false, "fill": "white", "fillOpacity": 1, "opacity": 1, "size": 55, "strokeWidth": 1.2},
             "encoding": {"y": {"field": "gflops", "type": "quantitative", "title": "GFlop\u00a0 /\u00a0 s", "scale": {"type": "log", "base": 2, "domain": [1, 2048], "nice": false}},
                          "color": {"field": "series", "type": "nominal", "scale": {"domain": ["KBLAS 8-GPUs", "KBLAS 4-GPUs", "KBLAS 2-GPUs", "KBLAS 1-GPU", "MKL-28-cores"], "range": ["#9BBB59", "#8064A2", "#C0504D", "#4F81BD", "#F79646"]}, "legend": null},
                          "shape": {"field": "series", "type": "nominal", "scale": {"domain": ["KBLAS 8-GPUs", "KBLAS 4-GPUs", "KBLAS 2-GPUs", "KBLAS 1-GPU"], "range": ["circle", "triangle-up", "square", "diamond"]}, "legend": null}}},
            {"data": {"name": "mkl"}, "transform": [{"filter": "datum.panel === 'f'"}], "mark": {"type": "line", "strokeWidth": 2, "strokeDash": [6, 4], "color": "#F79646"},
             "encoding": {"y": {"field": "gflops", "type": "quantitative", "title": "GFlop\u00a0 /\u00a0 s", "scale": {"type": "log", "base": 2, "domain": [1, 2048], "nice": false}}}},
            {"data": {"name": "mkl"}, "transform": [{"filter": "datum.panel === 'f'"}], "mark": {"type": "rule", "strokeWidth": 1.2, "color": "#F79646"},
             "encoding": {"y": {"field": "lo", "type": "quantitative", "title": "GFlop\u00a0 /\u00a0 s", "scale": {"type": "log", "base": 2, "domain": [1, 2048], "nice": false}}, "y2": {"field": "hi"}}},
            {"data": {"name": "mkl"}, "transform": [{"filter": "datum.panel === 'f'"}], "mark": {"type": "tick", "size": 6, "thickness": 1.2, "color": "#F79646"},
             "encoding": {"y": {"field": "lo", "type": "quantitative", "title": "GFlop\u00a0 /\u00a0 s", "scale": {"type": "log", "base": 2, "domain": [1, 2048], "nice": false}}}},
            {"data": {"name": "mkl"}, "transform": [{"filter": "datum.panel === 'f'"}], "mark": {"type": "tick", "size": 6, "thickness": 1.2, "color": "#F79646"},
             "encoding": {"y": {"field": "hi", "type": "quantitative", "title": "GFlop\u00a0 /\u00a0 s", "scale": {"type": "log", "base": 2, "domain": [1, 2048], "nice": false}}}},
            {"data": {"name": "kblas"}, "transform": [{"filter": "false"}], "mark": {"type": "point", "filled": false, "fill": "white", "size": 225, "strokeWidth": 1.6},
             "encoding": {"color": {"field": "series", "type": "nominal", "scale": {"domain": ["KBLAS 8-GPUs", "KBLAS 4-GPUs", "KBLAS 2-GPUs", "KBLAS 1-GPU", "MKL-28-cores"], "range": ["#9BBB59", "#8064A2", "#C0504D", "#4F81BD", "#F79646"]}, "legend": {"orient": "bottom-right"}},
                          "shape": {"field": "series", "type": "nominal", "scale": {"domain": ["KBLAS 8-GPUs", "KBLAS 4-GPUs", "KBLAS 2-GPUs", "KBLAS 1-GPU", "MKL-28-cores"], "range": ["M-1,0H-0.4M0.4,0H1M-0.4,0A0.4,0.4,0,1,1,0.4,0A0.4,0.4,0,1,1,-0.4,0Z", "M-1,0H-0.27M0.27,0H1M0,-0.45L0.42,0.3L-0.42,0.3Z", "M-1,0H-0.36M0.36,0H1M-0.36,-0.36H0.36V0.36H-0.36Z", "M-1,0H-0.45M0.45,0H1M0,-0.45L0.45,0L0,0.45L-0.45,0Z", "M-1,0H-0.18M0.18,0H1"]}, "legend": {"orient": "bottom-right"}}}}
          ],
          "resolve": {"scale": {"shape": "independent", "color": "independent"}}
        }
      ]
    }
  ],
  "config": {
    "font": "DejaVu Serif",
    "view": {"stroke": null},
    "axis": {
      "labelFont": "DejaVu Serif", "labelFontSize": 12, "labelColor": "#000",
      "titleFont": "DejaVu Serif", "titleFontWeight": "normal", "titleColor": "#000",
      "domainColor": "#A0A0A0", "domainWidth": 1.2, "tickColor": "#A0A0A0", "tickWidth": 1.2,
      "gridColor": "#A6A6A6", "gridWidth": 1.3
    },
    "axisY": {"labelFontSize": 11.5, "titleFontSize": 12, "tickSize": 4, "labelPadding": 2, "titlePadding": 1},
    "axisX": {"titleFontSize": 12.2, "grid": false, "tickBand": "extent", "tickSize": 5, "labelAngle": 0, "labelPadding": 5, "titlePadding": 0},
    "legend": {
      "symbolSize": 225, "symbolStrokeWidth": 1.6, "symbolFillColor": "white", "symbolOpacity": 1,
      "labelFont": "DejaVu Serif", "labelFontSize": 13.8, "labelColor": "#000", "labelLimit": 300,
      "rowPadding": 2, "labelOffset": 5, "padding": 0, "offset": 0, "title": null
    },
    "title": {"font": "DejaVu Serif", "fontSize": 17.3, "fontWeight": "normal", "color": "#000", "orient": "bottom", "anchor": "middle", "frame": "bounds", "offset": 24}
  }
}
